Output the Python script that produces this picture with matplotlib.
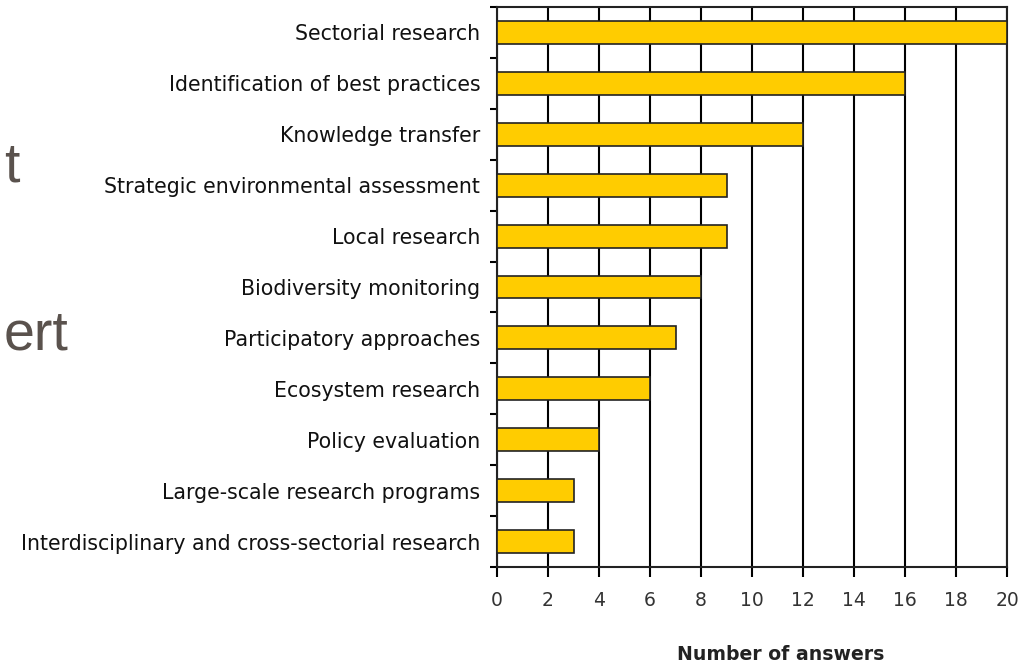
import matplotlib
matplotlib.use("Agg")
from matplotlib import pyplot as plt
import numpy as np

# data, top to bottom
categories = ["Sectorial research",
              "Identification of best practices",
              "Knowledge transfer",
              "Strategic environmental assessment",
              "Local research",
              "Biodiversity monitoring",
              "Participatory approaches",
              "Ecosystem research",
              "Policy evaluation",
              "Large-scale research programs",
              "Interdisciplinary and cross-sectorial research"]
answers = [20, 16, 12, 9, 9, 8, 7, 6, 4, 3, 3]
xticks = list(range(0, 21, 2))

plt.rcParams['font.family'] = ['DejaVu Sans']

fig = plt.figure(figsize=(10.35, 6.64), dpi=100)
ax = fig.add_axes([497/1035, 1-567/664, 510/1035, 560/664])

ypos = np.arange(len(categories))
ax.barh(ypos, answers, height=0.45, color='#ffcc00', edgecolor='#222222',
        linewidth=1.2, zorder=3)

ax.set_xlim(0, 20)
ax.set_ylim(len(categories)-0.5, -0.5)
ax.set_xticks(xticks)
ax.set_xticklabels([str(t) for t in xticks], fontsize=13.5, color='#333333')
ax.set_yticks(ypos)
ax.set_yticklabels(categories, fontsize=14.8, color='#111111')
ax.set_yticks(np.arange(-0.5, len(categories), 1), minor=True)

ax.tick_params(axis='y', which='major', length=0, pad=12)
ax.tick_params(axis='y', which='minor', length=5, width=1.5, direction='out')
ax.tick_params(axis='x', which='major', length=7, width=1.5, pad=10)

ax.grid(axis='x', color='black', linewidth=1.5, zorder=0)
ax.set_axisbelow(True)
for s in ax.spines.values():
    s.set_linewidth(1.5)
    s.set_color('#222222')

fig.text(781/1035, 1-655/664, "Number of answers", ha='center', va='center',
         fontsize=13.6, fontweight='bold', color='#222222')

# leftover text from the slide behind the chart
fig.text(20/1035, 1-181/664, "t", ha='right', va='baseline',
         fontsize=40, color='#5a524d', family='Liberation Sans')
fig.text(68/1035, 1-350/664, "ert", ha='right', va='baseline',
         fontsize=40, color='#5a524d', family='Liberation Sans')

plt.savefig("out.png", dpi=100)
